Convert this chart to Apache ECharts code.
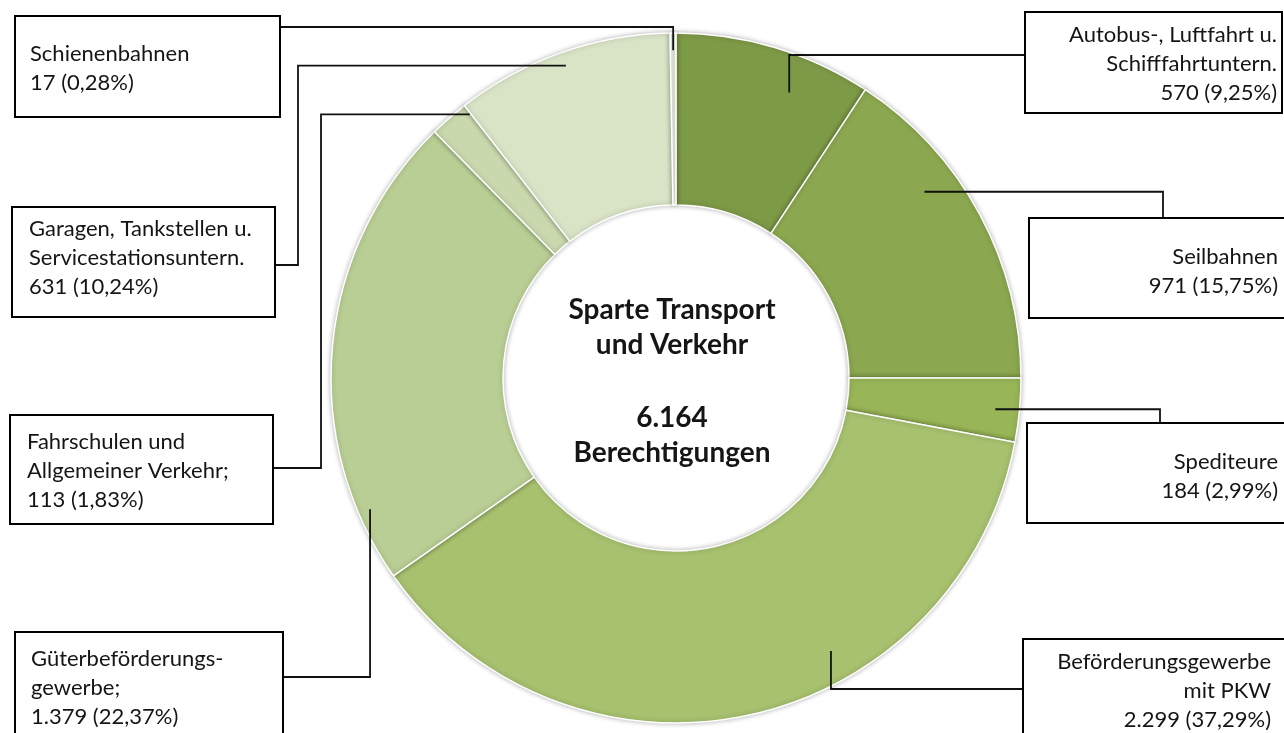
<!DOCTYPE html>
<html>
<head>
<meta charset="utf-8">
<script src="https://cdn.jsdelivr.net/npm/echarts@6/dist/echarts.min.js"></script>
<style>
  html, body { margin: 0; padding: 0; background: #fff; }
  #chart { width: 1284px; height: 733px; }
</style>
</head>
<body>
<div id="chart"></div>
<script>
// data, clockwise from 12 o'clock
const categories = [
  "Autobus-, Luftfahrt u. Schifffahrtuntern.",
  "Seilbahnen",
  "Spediteure",
  "Beförderungsgewerbe mit PKW",
  "Güterbeförderungsgewerbe",
  "Fahrschulen und Allgemeiner Verkehr",
  "Garagen, Tankstellen u. Servicestationsuntern.",
  "Schienenbahnen",
];
const values = [570, 971, 184, 2299, 1379, 113, 631, 17];
// shares as printed on the chart (they add up to 100)
const shares = [9.25, 15.75, 2.99, 37.29, 22.37, 1.83, 10.24, 0.28];
const labelNames = [
  "Autobus-, Luftfahrt u.\nSchifffahrtuntern.",
  "Seilbahnen",
  "Spediteure",
  "Beförderungsgewerbe\nmit PKW",
  "Güterbeförderungs-\ngewerbe;",
  "Fahrschulen und\nAllgemeiner Verkehr;",
  "Garagen, Tankstellen u.\nServicestationsuntern.",
  "Schienenbahnen",
];
const centerTitle = "Sparte Transport\nund Verkehr";
const centerUnit = "Berechtigungen";

const colors = ["#7d9a47", "#8ba74f", "#98b557", "#a7c16f", "#b9ce94", "#c9d8ad", "#d9e4c7", "#e7eedc"];

// callout boxes, same order as the data
// at = position inside the slice (0..1), k = fraction of outer radius
const callouts = [
  { box: [1025, 12, 257, 101], align: "right", tx: 1277, ty: 20, at: 0.65, k: 0.89, route: "vh", to: [1025, 55] },
  { box: [1029, 218, 270, 100], align: "right", tx: 1278, ty: 242, at: 0.35, k: 0.9, route: "hv", to: [1163, 218] },
  { box: [1027, 423, 270, 100], align: "right", tx: 1278, ty: 447, at: 0.52, k: 0.93, route: "hv", to: [1160, 423] },
  { box: [1023, 639, 270, 110], align: "right", tx: 1271, ty: 647, at: 0.37, k: 0.91, route: "vh", to: [1023, 689] },
  { box: [15, 632, 268, 110], align: "left", tx: 31, ty: 644, at: 0.146, k: 0.965, route: "vh", to: [283, 677] },
  { box: [10, 415, 263, 109], align: "left", tx: 27, ty: 427, at: 0.97, k: 0.97, route: "hvh", elbow: 321, to: [273, 468] },
  { box: [12, 207, 263, 110], align: "left", tx: 29, ty: 214, at: 0.5, k: 0.96, route: "hvh", elbow: 298, to: [275, 265] },
  { box: [15, 16, 265, 101], align: "left", tx: 30, ty: 39, at: 0.5, k: 0.95, route: "vh", to: [280, 27] },
];

const FONT = "Lato";
const textColor = "#151515";

function fmtInt(v) {
  return String(v).replace(/\B(?=(\d{3})+(?!\d))/g, ".");
}
function fmtShare(s) {
  return s.toFixed(2).replace(".", ",");
}

const chart = echarts.init(document.getElementById("chart"), null, { renderer: "canvas" });
const total = values.reduce((a, b) => a + b, 0);

chart.setOption({
  animation: false,
  backgroundColor: "#fff",
  series: [
    {
      type: "pie",
      center: [676, 378],
      radius: [173, 345],
      startAngle: 90,
      clockwise: true,
      silent: true,
      avoidLabelOverlap: false,
      label: { show: false },
      labelLine: { show: false },
      emphasis: { disabled: true },
      itemStyle: {
        borderColor: "#fff",
        borderWidth: 1.5,
        shadowBlur: 5,
        shadowColor: "rgba(0,0,0,0.28)",
      },
      data: categories.map((name, i) => ({
        name,
        value: values[i],
        itemStyle: { color: colors[i] },
      })),
    },
  ],
});

// slice geometry as laid out by echarts
function sliceLayout(i) {
  try {
    const data = chart.getModel().getSeriesByIndex(0).getData();
    const l = data.getItemLayout(i);
    if (l && l.r != null) return l;
  } catch (e) {}
  // fallback: same math as the pie layout
  let start = -Math.PI / 2;
  for (let j = 0; j < i; j++) start += (values[j] / total) * Math.PI * 2;
  return {
    cx: 676, cy: 378, r: 345, r0: 173,
    startAngle: start,
    endAngle: start + (values[i] / total) * Math.PI * 2,
  };
}

const graphics = [];
callouts.forEach((c, i) => {
  const l = sliceLayout(i);
  const a = l.startAngle + c.at * (l.endAngle - l.startAngle);
  const ax = l.cx + l.r * c.k * Math.cos(a);
  const ay = l.cy + l.r * c.k * Math.sin(a);
  let pts;
  if (c.route === "vh") pts = [[ax, ay], [ax, c.to[1]], c.to];
  else if (c.route === "hv") pts = [[ax, ay], [c.to[0], ay], c.to];
  else pts = [[ax, ay], [c.elbow, ay], [c.elbow, c.to[1]], c.to];

  graphics.push({
    type: "polyline",
    z: 100,
    silent: true,
    shape: { points: pts },
    style: { stroke: "#111", lineWidth: 1.8, fill: null },
  });
  graphics.push({
    type: "rect",
    z: 101,
    silent: true,
    shape: { x: c.box[0], y: c.box[1], width: c.box[2], height: c.box[3] },
    style: { fill: "#fff", stroke: "#000", lineWidth: 2 },
  });
  graphics.push({
    type: "text",
    z: 102,
    silent: true,
    x: c.tx,
    y: c.ty,
    style: {
      text: labelNames[i] + "\n" + fmtInt(values[i]) + " (" + fmtShare(shares[i]) + "%)",
      font: "22px " + FONT,
      fill: textColor,
      lineHeight: 29,
      align: c.align,
      textAlign: c.align,
      verticalAlign: "top",
      textVerticalAlign: "top",
    },
  });
});

// centre text
graphics.push({
  type: "text",
  z: 102,
  silent: true,
  x: 672,
  y: 327,
  style: {
    text: centerTitle,
    font: "bold 28px " + FONT,
    fill: textColor,
    lineHeight: 35,
    align: "center",
    textAlign: "center",
    verticalAlign: "middle",
    textVerticalAlign: "middle",
  },
});
graphics.push({
  type: "text",
  z: 102,
  silent: true,
  x: 672,
  y: 435,
  style: {
    text: fmtInt(total) + "\n" + centerUnit,
    font: "bold 28px " + FONT,
    fill: textColor,
    lineHeight: 35,
    align: "center",
    textAlign: "center",
    verticalAlign: "middle",
    textVerticalAlign: "middle",
  },
});

chart.setOption({ graphic: { elements: graphics } });
</script>
</body>
</html>
